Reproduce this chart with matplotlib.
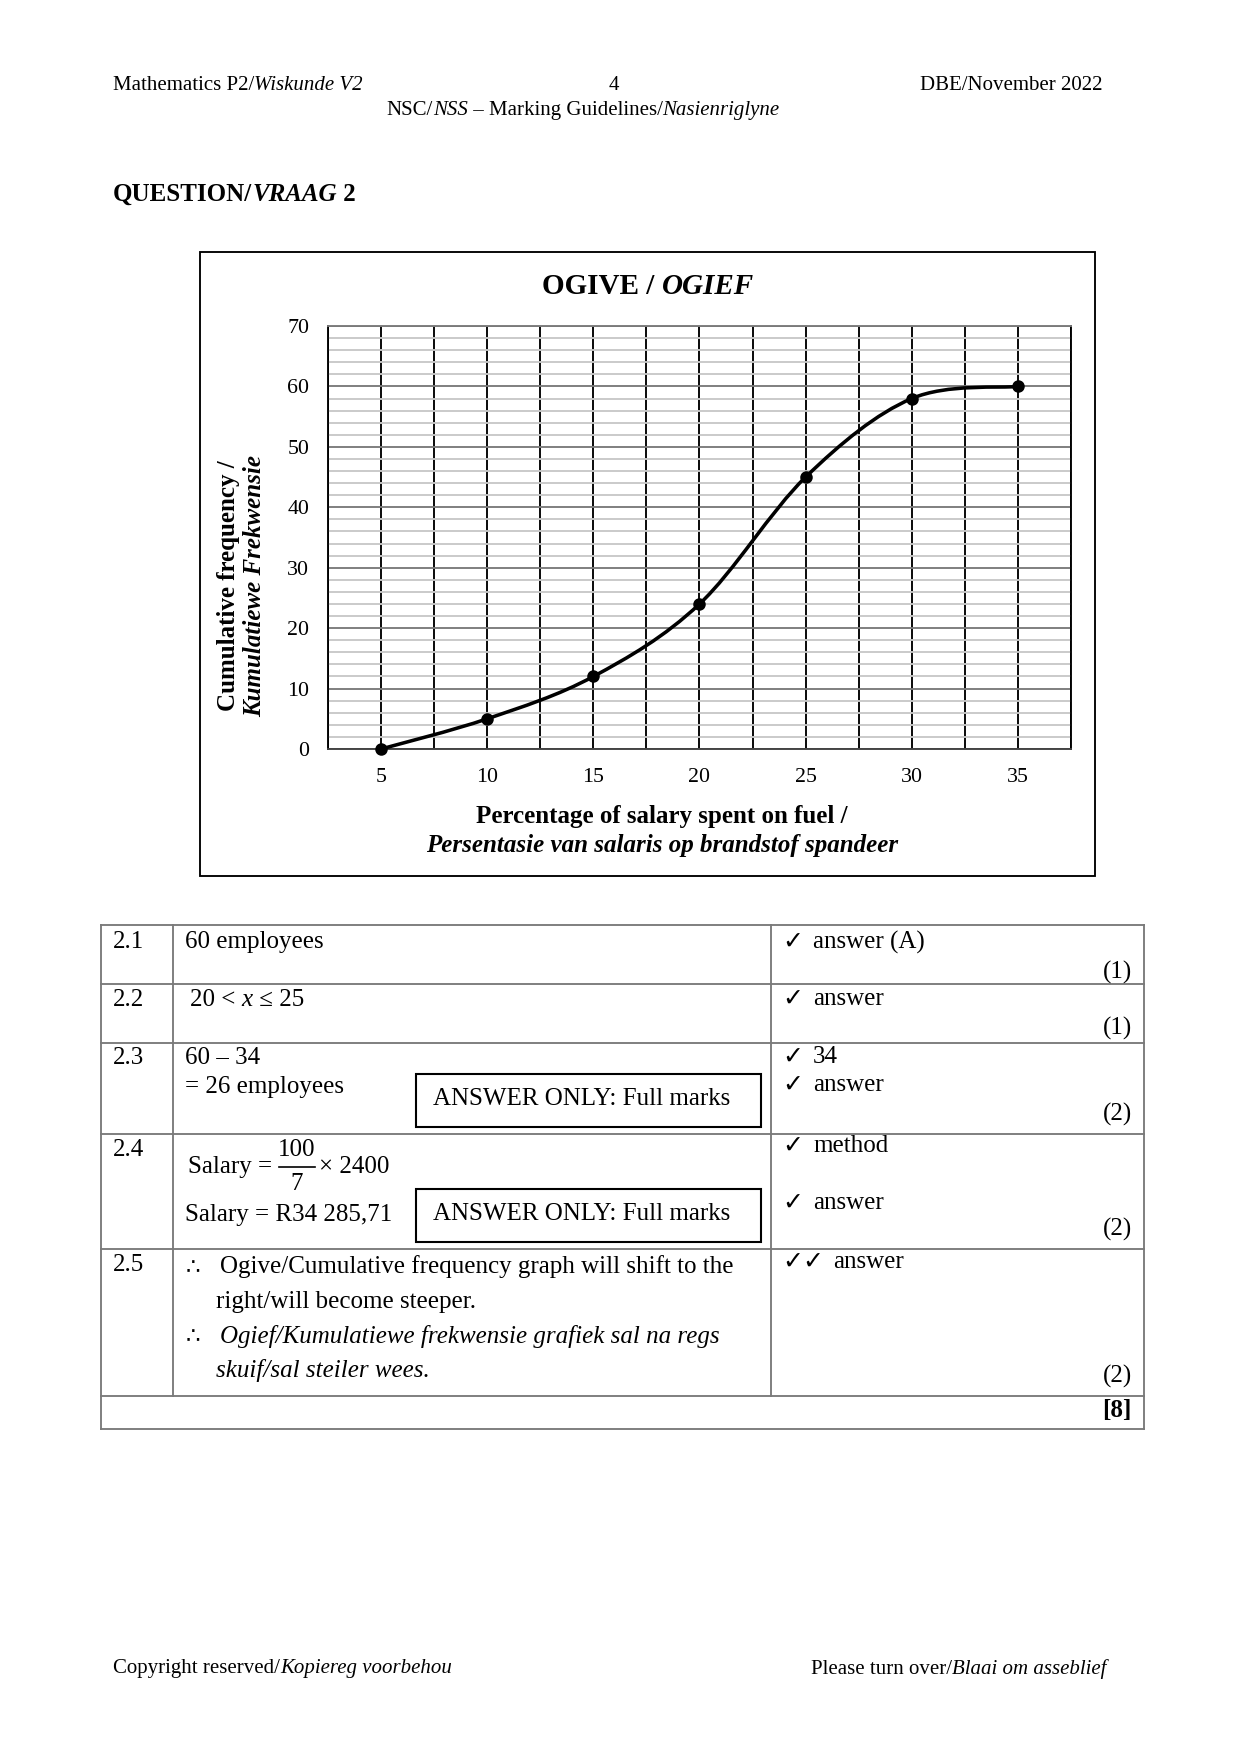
import numpy as np
import matplotlib.pyplot as plt
from matplotlib.path import Path
from matplotlib.patches import PathPatch, Rectangle

W, H = 1241, 1755
DPI = 150
SERIF = ['Liberation Serif', 'DejaVu Sans']
CHECK = ['DejaVu Sans']

# ogive values (upper class limit, cumulative frequency)
upper_limits = [5, 10, 15, 20, 25, 30, 35]
cum_freq = [0, 5, 12, 24, 45, 58, 60]
x_ticks = [5, 10, 15, 20, 25, 30, 35]
y_ticks = [0, 10, 20, 30, 40, 50, 60, 70]

# marking table
q_numbers = ['2.1', '2.2', '2.3', '2.4', '2.5']
row_marks = ['(1)', '(1)', '(2)', '(2)', '(2)']
total_marks = '[8]'

fig = plt.figure(figsize=(W / DPI, H / DPI), dpi=DPI)
pg = fig.add_axes([0, 0, 1, 1])
pg.set_xlim(0, W)
pg.set_ylim(H, 0)
pg.axis('off')
rend = fig.canvas.get_renderer()


def runs(x, y, parts, size, ha='left'):
    # write roman / italic / bold pieces next to each other
    arts, widths = [], []
    for txt, style, weight in parts:
        t = pg.text(0, y, txt, fontsize=size, style=style, weight=weight,
                    family=SERIF, va='center', ha='left')
        arts.append(t)
        widths.append(t.get_window_extent(rend).width)
    tot = sum(widths)
    x0 = x - tot if ha == 'right' else (x - tot / 2 if ha == 'center' else x)
    for t, w in zip(arts, widths):
        t.set_x(x0)
        x0 += w


def tx(x, y, s, size=12, ha='left', style='normal', weight='normal', fam=SERIF, rot=0):
    pg.text(x, y, s, fontsize=size, ha=ha, va='center', style=style,
            weight=weight, family=fam, rotation=rot)


# page header / footer
runs(113, 85, [('Mathematics P2/', 'normal', 'normal'), ('Wiskunde V2', 'italic', 'normal')], 10)
tx(614, 85, '4', 10, ha='center')
tx(1102, 85, 'DBE/November 2022', 10, ha='right')
runs(583, 110, [('NSC/', 'normal', 'normal'), ('NSS', 'italic', 'normal'),
                (' \u2013 Marking Guidelines/', 'normal', 'normal'),
                ('Nasienriglyne', 'italic', 'normal')], 10, ha='center')
runs(113, 194, [('QUESTION/', 'normal', 'bold'), ('VRAAG', 'italic', 'bold'),
                (' 2', 'normal', 'bold')], 12)
runs(113, 1669, [('Copyright reserved/', 'normal', 'normal'),
                 ('Kopiereg voorbehou', 'italic', 'normal')], 10)
runs(1106, 1669, [('Please turn over/', 'normal', 'normal'),
                  ('Blaai om asseblief', 'italic', 'normal')], 10, ha='right')

# chart frame and titles
pg.add_patch(Rectangle((200, 252), 895, 624, fill=False, ec='black', lw=0.9))
runs(648, 286, [('OGIVE / ', 'normal', 'bold'), ('OGIEF', 'italic', 'bold')], 14, ha='center')
tx(228, 586, 'Cumulative frequency /', 12, ha='center', weight='bold', rot=90)
tx(255, 586, 'Kumulatiewe Frekwensie', 12, ha='center', weight='bold', style='italic', rot=90)
tx(662, 816, 'Percentage of salary spent on fuel /', 12, ha='center', weight='bold')
tx(662, 845, 'Persentasie van salaris op brandstof spandeer', 12, ha='center',
   weight='bold', style='italic')

# ogive axes
ax = fig.add_axes([328 / W, 1 - 749 / H, (1071 - 328) / W, (749 - 326) / H])
ax.set_xlim(2.5, 37.5)
ax.set_ylim(0, 70)
ax.set_xticks(x_ticks)
ax.set_xticks(np.arange(2.5, 37.6, 5), minor=True)
ax.set_yticks(y_ticks)
ax.set_yticks(np.arange(0, 71, 2), minor=True)
ax.tick_params(which='both', length=0)
ax.tick_params(axis='x', pad=9)
ax.tick_params(axis='y', pad=9)
for lab in ax.get_xticklabels() + ax.get_yticklabels():
    lab.set_family(SERIF)
    lab.set_fontsize(10.5)
ax.yaxis.grid(True, which='minor', color='#c8c8c8', lw=0.9)
ax.yaxis.grid(True, which='major', color='#7a7a7a', lw=0.9)
ax.xaxis.grid(True, which='both', color='black', lw=0.9)
ax.set_axisbelow(True)
for side in ['left', 'right']:
    ax.spines[side].set_color('black')
ax.spines['top'].set_color('#7a7a7a')
ax.spines['bottom'].set_color('#404040')
for sp in ax.spines.values():
    sp.set_linewidth(0.9)

# smoothed line through the points (Catmull-Rom style bezier, like a spreadsheet)
P = np.column_stack([upper_limits, cum_freq]).astype(float)
verts, codes = [P[0]], [Path.MOVETO]
for i in range(len(P) - 1):
    p_prev = P[i - 1] if i > 0 else P[i]
    p_next = P[i + 2] if i + 2 < len(P) else P[i + 1]
    verts += [P[i] + (P[i + 1] - p_prev) / 6, P[i + 1] - (p_next - P[i]) / 6, P[i + 1]]
    codes += [Path.CURVE4] * 3
ax.add_patch(PathPatch(Path(verts, codes), fill=False, ec='black', lw=1.7, zorder=3))
ax.plot(upper_limits, cum_freq, 'o', color='black', ms=5, zorder=4, clip_on=False)

# marking guideline table
row_lines = [925, 984, 1043, 1134, 1249, 1396, 1429]
TL, TR, C1, C2 = 101, 1144, 173, 771
for yl in row_lines:
    pg.plot([TL, TR], [yl, yl], color='#7a7a7a', lw=0.9)
for xl in [TL, TR]:
    pg.plot([xl, xl], [row_lines[0], row_lines[-1]], color='#7a7a7a', lw=0.9)
for xl in [C1, C2]:
    pg.plot([xl, xl], [row_lines[0], row_lines[-2]], color='#7a7a7a', lw=0.9)

q_y = [942, 1000, 1058, 1150, 1265]
for q, yq in zip(q_numbers, q_y):
    tx(113, yq, q)

tx(185, 942, '60 employees')
runs(190, 1000, [('20 < ', 'normal', 'normal'), ('x', 'italic', 'normal'),
                 (' \u2264 25', 'normal', 'normal')], 12)
tx(185, 1058, '60 \u2013 34')
tx(185, 1087, '= 26 employees')
for yb in [1074, 1189]:
    pg.add_patch(Rectangle((416, yb), 345, 53, fill=False, ec='black', lw=1.0))
    tx(433, yb + 25, 'ANSWER ONLY: Full marks')

tx(188, 1167, 'Salary =')
pg.plot([279, 315], [1167, 1167], color='black', lw=0.8)
tx(297, 1150, '100', ha='center')
tx(297, 1184, '7', ha='center')
tx(319, 1167, '\u00d7 2400')
tx(185, 1215, 'Salary = R34 285,71')

tx(186, 1268, '\u2234', 11, fam=CHECK)
tx(220, 1267, 'Ogive/Cumulative frequency graph will shift to the')
tx(216, 1302, 'right/will become steeper.')
tx(186, 1337, '\u2234', 11, fam=CHECK)
tx(220, 1336, 'Ogief/Kumulatiewe frekwensie grafiek sal na regs', style='italic')
tx(216, 1371, 'skuif/sal steiler wees.', style='italic')

# mark allocation column
checks = [(942, 'answer (A)'), (999, 'answer'), (1057, '34'), (1085, 'answer'),
          (1146, 'method'), (1203, 'answer')]
for yc, lab in checks:
    tx(782, yc, '\u2713', 12, fam=CHECK)
    tx(813, yc, lab)
tx(782, 1262, '\u2713\u2713', 12, fam=CHECK)
tx(833, 1262, 'answer')
for yc, m in zip([972, 1028, 1114, 1229, 1376], row_marks):
    tx(1132, yc, m, ha='right')
tx(1131, 1410, total_marks, weight='bold', ha='right')

fig.savefig('out.png', dpi=DPI)
